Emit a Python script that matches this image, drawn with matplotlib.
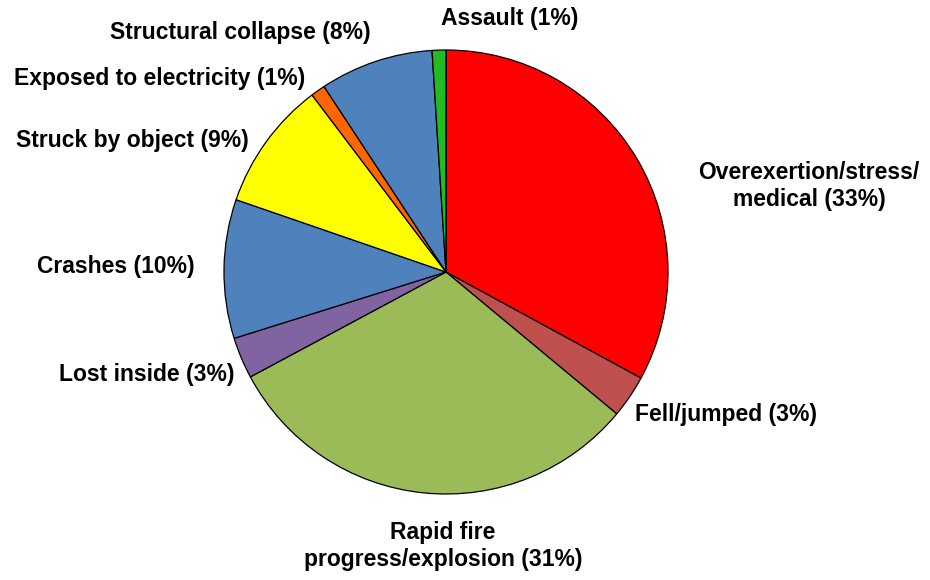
import numpy as np
import matplotlib
matplotlib.use("Agg")
import matplotlib.pyplot as plt

# causes of fatal injury, clockwise from 12 o'clock
causes = ["Overexertion/stress/\nmedical", "Fell/jumped", "Rapid fire\nprogress/explosion",
          "Lost inside", "Crashes", "Struck by object", "Exposed to electricity",
          "Structural collapse", "Assault"]
pct_label = [33, 3, 31, 3, 10, 9, 1, 8, 1]
shares = [32.9, 3.1, 31.1, 3.0, 10.1, 9.4, 1.05, 8.25, 1.0]
colors = ["#FF0000", "#C0504D", "#9BBB59", "#8064A2", "#4F81BD", "#FFFF00",
          "#FF6600", "#4F81BD", "#22BB22"]

# label centres in pixels of the 930x580 canvas (layout only)
label_px = [(809, 186), (726, 414), (443, 546), (147, 374), (116, 267),
            (132, 140), (160, 79), (240, 33), (510, 18)]

plt.rcParams["font.family"] = ["Liberation Sans", "DejaVu Sans"]

W, H = 930, 580
cx, cy, R = 446, 272, 222
fig = plt.figure(figsize=(W / 100, H / 100), dpi=100)
ax = fig.add_axes([(cx - R) / W, (H - cy - R) / H, 2 * R / W, 2 * R / H])

ax.pie(shares, colors=colors, startangle=90, counterclock=False,
       wedgeprops=dict(edgecolor="black", linewidth=0.9))
ax.set_xlim(-1, 1)
ax.set_ylim(-1, 1)
ax.set_aspect("equal")
ax.axis("off")

for name, p, (px, py) in zip(causes, pct_label, label_px):
    x = (px - cx) / R
    y = (cy - py) / R
    ax.text(x, y, f"{name} ({p}%)", ha="center", va="center", fontsize=16.5,
            fontweight="bold", linespacing=1.2, clip_on=False)

fig.savefig("out.png", dpi=100)
